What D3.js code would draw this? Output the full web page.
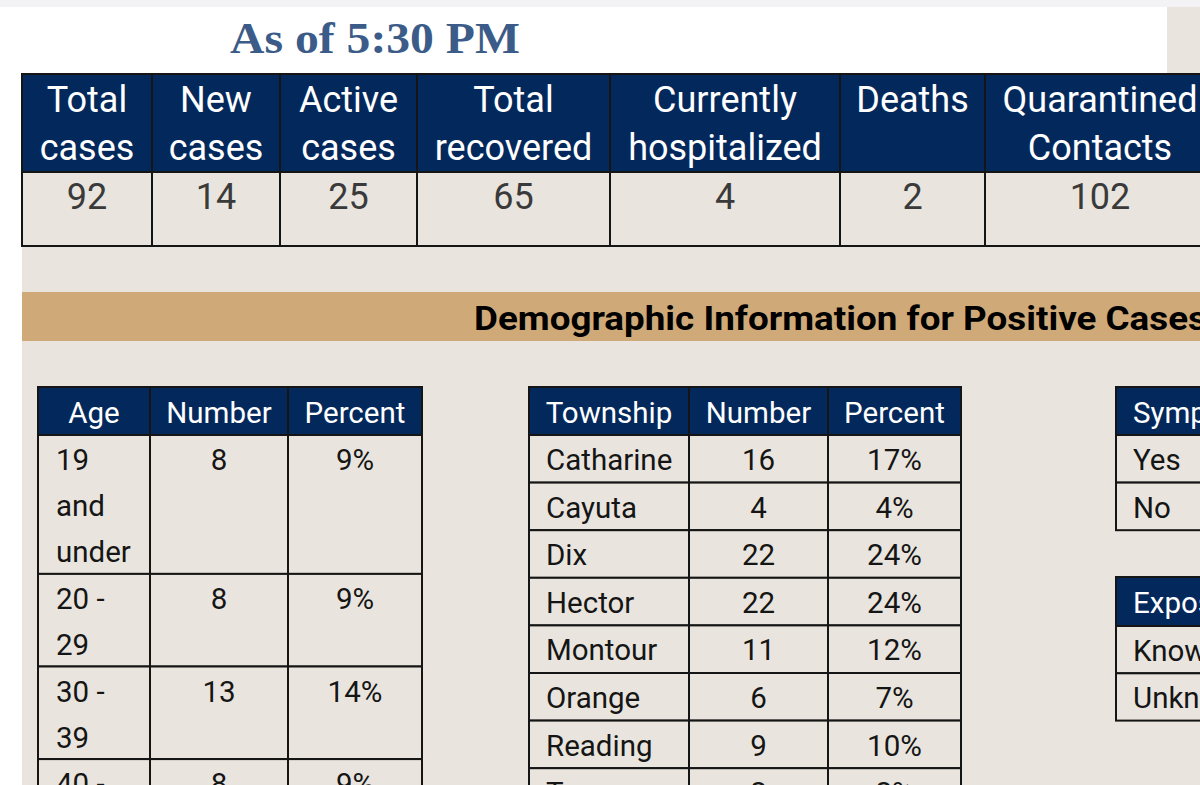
<!DOCTYPE html>
<html>
<head>
<meta charset="utf-8">
<script src="https://cdn.jsdelivr.net/npm/d3@7"></script>
<style>
  body { margin: 0; background: #fff; overflow: hidden; }
  svg { display: block; }
</style>
</head>
<body>
<div id="chart"></div>
<script>
// Data
const titleText = 'As of 5:30 PM';
const summaryHeaders = [['Total', 'cases'], ['New', 'cases'], ['Active', 'cases'], ['Total', 'recovered'],
  ['Currently', 'hospitalized'], ['Deaths'], ['Quarantined', 'Contacts']];
const summaryValues = [92, 14, 25, 65, 4, 2, 102];

const bannerText = 'Demographic Information for Positive Cases';

const ageHeaders = ['Age', 'Number', 'Percent'];
const ageGroups = [['19', 'and', 'under'], ['20 -', '29'], ['30 -', '39'], ['40 -', '49']];
const ageCounts = [8, 8, 13, 8];
const agePercents = ['9%', '9%', '14%', '9%'];

const townHeaders = ['Township', 'Number', 'Percent'];
const townships = ['Catharine', 'Cayuta', 'Dix', 'Hector', 'Montour', 'Orange', 'Reading', 'Tyrone'];
const townCounts = [16, 4, 22, 22, 11, 6, 9, 2];
const townPercents = ['17%', '4%', '24%', '24%', '12%', '7%', '10%', '2%'];

const symptomHeader = 'Symptomatic';
const symptomRows = ['Yes', 'No'];
const exposureHeader = 'Exposure';
const exposureRows = ['Known', 'Unknown'];

// Colours
const navy = '#03295c';
const beige = '#e9e5de';
const tan = '#cfaa78';
const ink = '#151515';

const width = 1200, height = 785;

const svg = d3.select('#chart').append('svg')
  .attr('width', width)
  .attr('height', height)
  .style('font-family', 'Roboto, "Noto Sans", sans-serif');

// page background
svg.append('rect').attr('width', width).attr('height', height).attr('fill', '#fff');
svg.append('rect').attr('width', width).attr('height', 7).attr('fill', '#f3f3f6');
svg.append('rect').attr('x', 1167).attr('y', 7).attr('width', width - 1167).attr('height', 80).attr('fill', beige);
svg.append('rect').attr('x', 22).attr('y', 74).attr('width', width - 22).attr('height', height - 74).attr('fill', beige);

// title
svg.append('text')
  .attr('x', 230)
  .attr('y', 53)
  .attr('textLength', 290)
  .attr('lengthAdjust', 'spacingAndGlyphs')
  .style('font-family', '"Liberation Serif", "DejaVu Serif", serif')
  .style('font-weight', 'bold')
  .style('font-size', '45px')
  .attr('fill', '#3b5b88')
  .text(titleText);

// generic grid table: header row + body rows, each cell a list of text lines
function drawTable(opts) {
  const g = svg.append('g');
  const edges = [opts.x, ...d3.cumsum(opts.colW).map(w => opts.x + w)];
  const rows = [{ head: true, h: opts.headH, cells: opts.header }]
    .concat(opts.body.map(r => ({ head: false, h: r.h, cells: r.cells })));
  const tops = [opts.y, ...d3.cumsum(rows, r => r.h).map(v => opts.y + v)];

  rows.forEach((row, ri) => {
    const top = tops[ri];
    row.cells.forEach((lines, ci) => {
      const x0 = edges[ci], x1 = edges[ci + 1];
      g.append('rect')
        .attr('x', x0).attr('y', top)
        .attr('width', x1 - x0).attr('height', row.h)
        .attr('fill', row.head ? navy : beige)
        .attr('stroke', ink)
        .attr('stroke-width', 2);
      const align = row.head ? (opts.headAlign || 'middle') : opts.align[ci];
      const tx = align === 'start' ? x0 + opts.padX : (x0 + x1) / 2;
      const base = row.head ? opts.headBase : opts.bodyBase;
      g.selectAll(null)
        .data(lines)
        .enter()
        .append('text')
        .attr('x', tx)
        .attr('y', (d, i) => top + base + i * opts.lineH)
        .attr('text-anchor', align)
        .style('font-size', opts.fontSize + 'px')
        .attr('fill', row.head ? '#fff' : (opts.bodyColor || ink))
        .text(d => d);
    });
  });
  return g;
}

// summary table
drawTable({
  x: 22, y: 74,
  colW: [130, 128, 137, 193, 230, 145, 230],
  headH: 98, headBase: 38, bodyBase: 37, lineH: 48,
  fontSize: 36, padX: 10,
  align: summaryValues.map(() => 'middle'),
  bodyColor: '#3a3a3a',
  header: summaryHeaders,
  body: [{ h: 74, cells: summaryValues.map(v => [String(v)]) }]
});

// banner
svg.append('rect')
  .attr('x', 22).attr('y', 292)
  .attr('width', width - 22).attr('height', 49)
  .attr('fill', tan);
svg.append('text')
  .attr('x', 474).attr('y', 330)
  .attr('textLength', 733)
  .attr('lengthAdjust', 'spacingAndGlyphs')
  .style('font-size', '34px')
  .style('font-weight', 'bold')
  .attr('fill', '#000')
  .text(bannerText);

// age table
drawTable({
  x: 38, y: 387,
  colW: [112, 138, 134],
  headH: 48, headBase: 36, bodyBase: 35, lineH: 46,
  fontSize: 29.5, padX: 18,
  align: ['start', 'middle', 'middle'],
  header: ageHeaders.map(h => [h]),
  body: ageGroups.map((lines, i) => ({
    h: lines.length * 46.3,
    cells: [lines, [String(ageCounts[i])], [agePercents[i]]]
  }))
});

// township table
drawTable({
  x: 529, y: 387,
  colW: [160, 139, 133],
  headH: 48, headBase: 36, bodyBase: 35, lineH: 46,
  fontSize: 29.5, padX: 17,
  align: ['start', 'middle', 'middle'],
  header: townHeaders.map(h => [h]),
  body: townships.map((t, i) => ({
    h: 47.6,
    cells: [[t], [String(townCounts[i])], [townPercents[i]]]
  }))
});

// symptom table
drawTable({
  x: 1116, y: 387,
  colW: [200],
  headH: 48, headBase: 36, bodyBase: 35, lineH: 46,
  fontSize: 29.5, padX: 17,
  headAlign: 'start',
  align: ['start'],
  header: [[symptomHeader]],
  body: symptomRows.map(r => ({ h: 47.6, cells: [[r]] }))
});

// exposure table
drawTable({
  x: 1116, y: 577,
  colW: [200],
  headH: 49, headBase: 36, bodyBase: 35, lineH: 46,
  fontSize: 29.5, padX: 17,
  headAlign: 'start',
  align: ['start'],
  header: [[exposureHeader]],
  body: exposureRows.map(r => ({ h: 47.3, cells: [[r]] }))
});
</script>
</body>
</html>
